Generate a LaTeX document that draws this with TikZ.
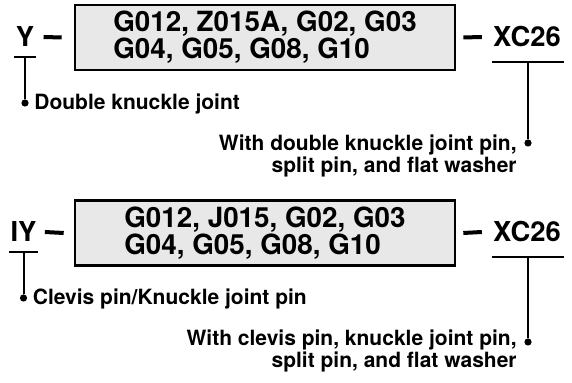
\documentclass[tikz,border=0pt]{standalone}
\usepackage{fontspec}
\setmainfont{TeX Gyre Heros}
\usetikzlibrary{positioning}
\definecolor{boxgray}{RGB}{232,232,232}
\tikzset{
  codebox/.style={draw, line width=1.3pt, fill=boxgray, minimum width=190pt, minimum height=32.5pt, inner sep=0pt, align=left, font=\bfseries\fontsize{13.9}{13.5}\selectfont},
  code/.style={inner sep=0pt, font=\bfseries\fontsize{13.7}{13.5}\selectfont},
  note/.style={inner sep=0pt, font=\bfseries\fontsize{10.5}{11}\selectfont},
  dashline/.style={line width=2pt},
  leader/.style={line width=1pt},
  dot/.style={circle, fill, inner sep=0pt, minimum size=3.6pt},
}

\begin{document}
\begin{tikzpicture}[x=0.5pt, y=-0.5pt]
\useasboundingbox (0,0) rectangle (572,383);

\node[codebox] (box1) at (265,37.5) {G012, Z015A, G02, G03\\G04, G05, G08, G10};
\node[code, anchor=base] (y1) at (25,47) {Y};
\node[code, anchor=base] (xc1) at (527,47) {XC26};
\draw[dashline] ([xshift=4.5pt]y1.east) -- ([xshift=-6pt]box1.west);
\draw[dashline] ([xshift=3.5pt]box1.east) -- ([xshift=-5.5pt]xc1.west);

\draw[leader] ([shift={(-0.5pt,-5pt)}]y1.base west) -- coordinate[midway] (y1m) ([shift={(0.5pt,-5pt)}]y1.base east);
\node[dot] (d1) at (y1m |- 0,103) {};
\node[note, anchor=base west] (lab1) at ([shift={(4.5pt,-3.5pt)}]d1.center) {Double knuckle joint};
\draw[leader] (y1m) -- (d1);

\draw[leader] ([shift={(-0.5pt,-7.5pt)}]xc1.base west) -- coordinate[midway] (xc1m) ([shift={(1.5pt,-7.5pt)}]xc1.base east);
\node[dot] (d2) at (xc1m |- 0,143) {};
\node[note, align=right, anchor=north east] (lab2) at (517,134) {With double knuckle joint pin,\\split pin, and flat washer};
\draw[leader] (xc1m) -- (d2);

\node[codebox] (box2) at (265,233) {G012, J015, G02, G03\\G04, G05, G08, G10};
\node[code, anchor=base] (y2) at (23.5,242) {IY};
\node[code, anchor=base] (xc2) at (527,242) {XC26};
\draw[dashline] ([xshift=4pt]y2.east) -- ([xshift=-5pt]box2.west);
\draw[dashline] ([xshift=3.5pt]box2.east) -- ([xshift=-5.5pt]xc2.west);

\draw[leader] ([shift={(-0.5pt,-5pt)}]y2.base west) -- coordinate[midway] (y2m) ([shift={(0.5pt,-5pt)}]y2.base east);
\node[dot] (d3) at (y2m |- 0,298) {};
\node[note, anchor=base west] (lab3) at ([shift={(4.5pt,-3.5pt)}]d3.center) {Clevis pin/Knuckle joint pin};
\draw[leader] (y2m) -- (d3);

\draw[leader] ([shift={(-0.5pt,-7.5pt)}]xc2.base west) -- coordinate[midway] (xc2m) ([shift={(1.5pt,-7.5pt)}]xc2.base east);
\node[dot] (d4) at (xc2m |- 0,342) {};
\node[note, align=right, anchor=north east] (lab4) at (517,329) {With clevis pin, knuckle joint pin,\\split pin, and flat washer};
\draw[leader] (xc2m) -- (d4);
\end{tikzpicture}
\end{document}
